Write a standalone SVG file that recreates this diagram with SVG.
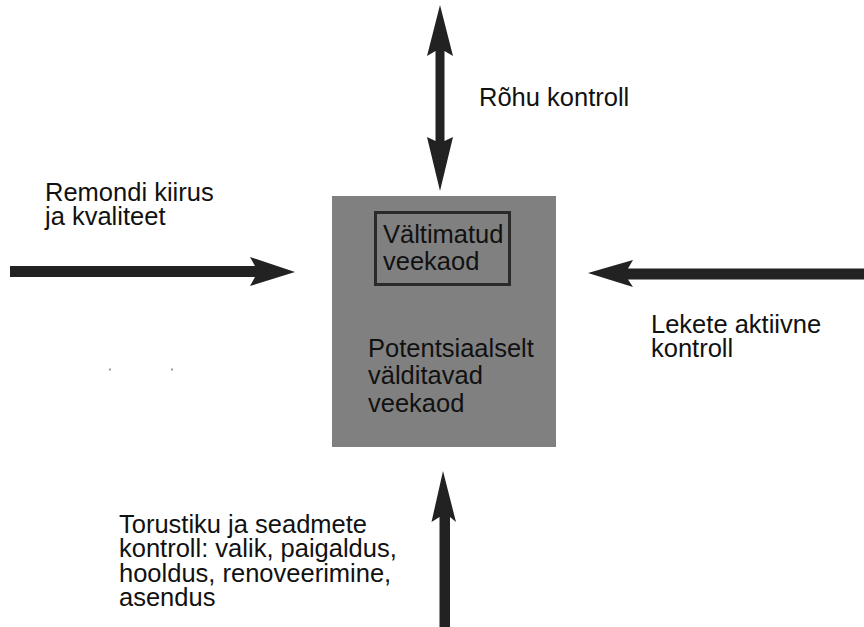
<svg xmlns="http://www.w3.org/2000/svg" width="864" height="627" viewBox="0 0 864 627">
<style>
  text { font-family: "Liberation Sans", Arial, sans-serif; font-size: 25.5px; fill: #111; }
  .arrow { fill: #222; }
</style>
<rect width="864" height="627" fill="#fff"/>
<g id="box">
  <rect x="332" y="196" width="224" height="251" fill="#808080"/>
  <text x="368" y="357"><tspan x="368" y="357">Potentsiaalselt</tspan><tspan x="368" y="384">välditavad</tspan><tspan x="368" y="412">veekaod</tspan></text>
</g>
<g id="inner">
  <rect x="375.5" y="212.5" width="134" height="72" fill="none" stroke="#2a2a2a" stroke-width="3"/>
  <text x="383" y="243"><tspan x="383" y="243">Vältimatud</tspan><tspan x="383" y="270">veekaod</tspan></text>
</g>
<g id="connectors">
  <polygon class="arrow" points="440,5 453,56 444.5,51 444.5,141 453,137 440,191 427,137 435.5,141 435.5,51 427,56"/>
  <polygon class="arrow" points="10,266 255,266 250,257 295,272 250,286 255,277 10,277"/>
  <polygon class="arrow" points="588,273 633,260 628,268.5 864,268.5 864,279.5 628,279.5 633,287"/>
  <polygon class="arrow" points="443,471 456,522 450,517 450,627 439.5,627 439.5,517 431.5,522"/>
</g>
<g id="label-top">
  <text x="479" y="106">Rõhu kontroll</text>
</g>
<g id="label-left">
  <text x="45" y="201"><tspan x="45" y="201">Remondi kiirus</tspan><tspan x="45" y="225">ja kvaliteet</tspan></text>
</g>
<g id="label-right">
  <text x="651" y="333"><tspan x="651" y="333">Lekete aktiivne</tspan><tspan x="651" y="357">kontroll</tspan></text>
</g>
<g id="label-bottom">
  <text x="119" y="533"><tspan x="119" y="533">Torustiku ja seadmete</tspan><tspan x="119" y="557">kontroll: valik, paigaldus,</tspan><tspan x="119" y="582">hooldus, renoveerimine,</tspan><tspan x="119" y="606">asendus</tspan></text>
</g>
<rect x="109" y="368.5" width="2" height="2" fill="#999"/>
<rect x="171" y="368.5" width="2" height="2" fill="#999"/>
</svg>
